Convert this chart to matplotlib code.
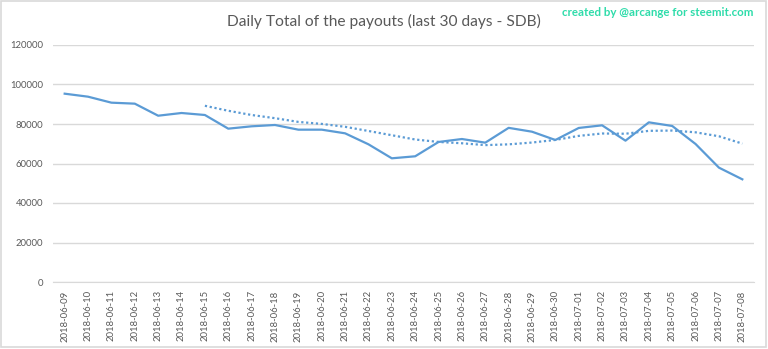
import matplotlib
matplotlib.use("Agg")
import matplotlib.pyplot as plt
import pandas as pd
from matplotlib.patches import Rectangle

# Daily payout totals (SDB), last 30 days
dates = pd.date_range("2018-06-09", "2018-07-08", freq="D")
date_labels = [d.strftime("%Y-%m-%d") for d in dates]
payouts = [95350, 93830, 90800, 90300, 84200, 85570, 84560, 77640, 78830, 79500,
           77130, 77130, 75280, 69720, 62630, 63650, 70900, 72400, 70550, 78050,
           76100, 71900, 78000, 79330, 71560, 80840, 79000, 69870, 57900, 51990]
y_ticks = [0, 20000, 40000, 60000, 80000, 100000, 120000]

title = "Daily Total of the payouts (last 30 days - SDB)"
credit = "created by @arcange for steemit.com"

# 7-day moving-average trendline
trend = pd.Series(payouts).rolling(7).mean()

plt.rcParams["font.family"] = ["Lato", "DejaVu Sans"]
text_grey = "#595959"
grid_grey = "#d9d9d9"
blue = "#5b9bd5"

fig = plt.figure(figsize=(7.68, 3.49), dpi=100)
ax = fig.add_axes([53 / 768, 1 - 282 / 349, 701 / 768, 237 / 349])

x = list(range(len(payouts)))
ax.plot(x, payouts, color=blue, lw=1.6, solid_joinstyle="round", zorder=3)
ax.plot(x, trend, color=blue, lw=1.6, linestyle=(0, (1, 1.2)), zorder=3)

ax.set_xlim(-0.5, len(payouts) - 0.5)
ax.set_ylim(0, 120000)
ax.set_yticks(y_ticks)
ax.set_yticklabels([str(v) for v in y_ticks])
ax.set_xticks(x)
ax.set_xticklabels(date_labels, rotation=90)

ax.grid(axis="y", color=grid_grey, lw=1)
ax.set_axisbelow(True)
for side in ["top", "right", "left"]:
    ax.spines[side].set_visible(False)
ax.spines["bottom"].set_color(grid_grey)
ax.tick_params(axis="both", length=0, colors=text_grey, labelsize=6.8)
ax.tick_params(axis="y", pad=7)
ax.tick_params(axis="x", pad=6)

fig.text(384 / 768, 1 - 21 / 349, title, ha="center", va="center",
         color=text_grey, fontsize=11.2)
fig.text(753 / 768, 1 - 13 / 349, credit, ha="right", va="center",
         color="#2edcaa", fontsize=8.3, fontweight="bold")

# light frame around the whole chart
fig.patches.append(Rectangle((0.001, 0.006), 0.997, 0.991, transform=fig.transFigure,
                             fill=False, edgecolor=grid_grey, lw=1.2))

fig.savefig("out.png", dpi=100)
